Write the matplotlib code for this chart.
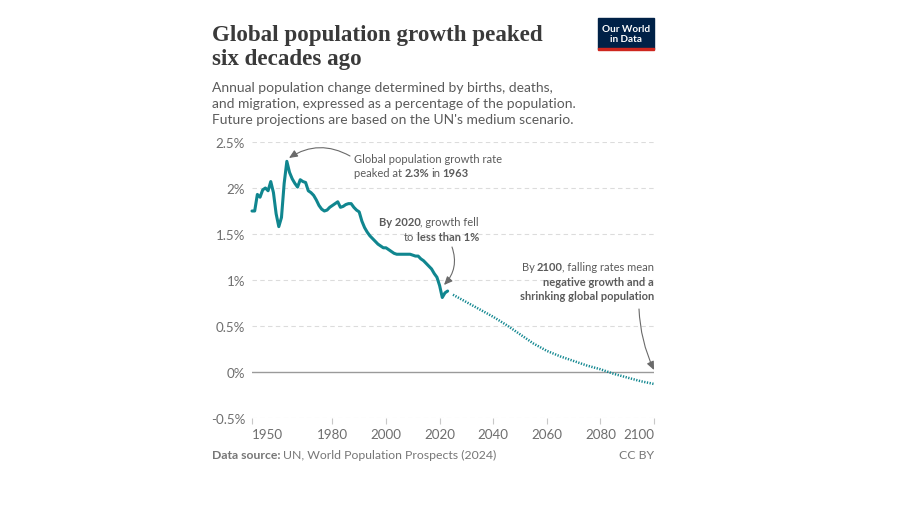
import matplotlib.pyplot as plt

plt.rcParams['font.family'] = ['Lato', 'DejaVu Sans']

# data (annual growth rate, %)
hist_years = list(range(1950, 2024))
hist_growth = [1.75, 1.75, 1.93, 1.90, 1.98, 2.00, 1.97, 2.07, 1.95, 1.72,
               1.58, 1.68, 2.05, 2.29, 2.17, 2.10, 2.05, 2.01, 2.09, 2.07,
               2.06, 1.97, 1.95, 1.92, 1.87, 1.81, 1.77, 1.75, 1.76, 1.79,
               1.81, 1.83, 1.85, 1.79, 1.80, 1.82, 1.83, 1.83, 1.79, 1.76,
               1.74, 1.64, 1.57, 1.52, 1.48, 1.45, 1.42, 1.39, 1.37, 1.35,
               1.35, 1.33, 1.31, 1.29, 1.28, 1.28, 1.28, 1.28, 1.28, 1.28,
               1.27, 1.26, 1.26, 1.23, 1.21, 1.18, 1.15, 1.12, 1.07, 1.03,
               0.94, 0.81, 0.86, 0.88]
proj_years = [2023, 2025, 2030, 2035, 2040, 2045, 2050, 2055, 2060, 2065,
              2070, 2075, 2080, 2085, 2090, 2095, 2100]
proj_growth = [0.88, 0.84, 0.76, 0.68, 0.60, 0.51, 0.41, 0.31, 0.23, 0.17,
               0.12, 0.07, 0.03, -0.02, -0.06, -0.10, -0.13]

y_ticks = [-0.5, 0, 0.5, 1, 1.5, 2, 2.5]
y_labels = ['-0.5%', '0%', '0.5%', '1%', '1.5%', '2%', '2.5%']
x_ticks = [1950, 1980, 2000, 2020, 2040, 2060, 2080, 2100]

W, H = 900, 510
TEAL = '#10868f'
GREY = '#5b5b5b'
LIGHT = '#6e6e6e'

fig = plt.figure(figsize=(W / 100, H / 100), dpi=100)


def fx(x):
    return x / W


def fy(y):
    return 1 - y / H


ax = fig.add_axes([fx(252), fy(419), (654 - 252) / W, (419 - 143) / H])
ax.set_xlim(1950, 2100)
ax.set_ylim(-0.5, 2.5)

for v in y_ticks:
    if v == 0:
        ax.axhline(0, color='#9a9a9a', lw=1, zorder=1)
    else:
        ax.axhline(v, color='#dcdcdc', lw=0.8, ls=(0, (4, 3)), zorder=1)

ax.plot(hist_years, hist_growth, color=TEAL, lw=2.2, solid_joinstyle='round',
        solid_capstyle='round', zorder=3, clip_on=False)
ax.plot(proj_years[1:], proj_growth[1:], color=TEAL, lw=1.8,
        ls=(0, (0.5, 0.6)), zorder=3, clip_on=False)

for s in ax.spines.values():
    s.set_visible(False)

ax.set_yticks(y_ticks)
ax.set_yticklabels(y_labels)
ax.tick_params(axis='y', length=0, pad=5, labelsize=9.6, labelcolor=LIGHT)
ax.set_xticks(x_ticks)
ax.set_xticklabels([str(t) for t in x_ticks])
ax.tick_params(axis='x', length=4, width=0.8, color='#c8c8c8', pad=3,
               labelsize=9.6, labelcolor=LIGHT)
xl = ax.get_xticklabels()
xl[0].set_horizontalalignment('left')
xl[-1].set_horizontalalignment('right')

# title / subtitle
fig.text(fx(212), fy(41), 'Global population growth peaked', family='Liberation Serif',
         fontweight='bold', fontsize=16.6, color='#3a3a3a', va='baseline')
fig.text(fx(212), fy(65), 'six decades ago', family='Liberation Serif',
         fontweight='bold', fontsize=16.6, color='#3a3a3a', va='baseline')
subtitle = ['Annual population change determined by births, deaths,',
            'and migration, expressed as a percentage of the population.',
            "Future projections are based on the UN's medium scenario."]
for i, line in enumerate(subtitle):
    fig.text(fx(212), fy(92.5 + 16 * i), line, fontsize=10, color=GREY, va='baseline')

# logo
fig.patches.append(plt.Rectangle((fx(598), fy(50)), 56 / W, 31 / H,
                                 transform=fig.transFigure, color='#002147'))
fig.patches.append(plt.Rectangle((fx(598), fy(51)), 56 / W, 1.6 / H,
                                 transform=fig.transFigure, color='#ce261e'))
fig.text(fx(626), fy(29), 'Our World', fontsize=7.2, fontweight='bold', color='white',
         ha='center', va='center')
fig.text(fx(626), fy(40), 'in Data', fontsize=7.2, fontweight='bold', color='white',
         ha='center', va='center')

renderer = fig.canvas.get_renderer()


def rich(x, y, parts, ha='left', size=8, color=GREY):
    # parts: (text, weight, space before)
    sp = size * 100 / 72 * 0.2
    items = []
    total = 0
    for i, (s, w, gap) in enumerate(parts):
        t = fig.text(0, 0, s, fontsize=size, fontweight=w, color=color, va='baseline')
        width = t.get_window_extent(renderer).width
        g = 0 if i == 0 else (sp if gap else -0.8)
        items.append((t, width, g))
        total += width + g
    x0 = x - total if ha == 'right' else x
    for t, width, g in items:
        x0 += g
        t.set_position((fx(x0), fy(y)))
        x0 += width


rich(354, 163, [('Global population growth rate', 'normal', False)])
rich(354, 177, [('peaked at', 'normal', False), ('2.3%', 'bold', True),
                ('in', 'normal', True), ('1963', 'bold', True)])
rich(479, 226, [('By 2020', 'bold', False), (', growth fell', 'normal', False)], ha='right')
rich(479, 241, [('to', 'normal', False), ('less than 1%', 'bold', True)], ha='right')
rich(654, 271, [('By', 'normal', False), ('2100', 'bold', True),
                (', falling rates mean', 'normal', False)], ha='right')
rich(654, 285.5, [('negative growth and a', 'bold', False)], ha='right')
rich(654, 300, [('shrinking global population', 'bold', False)], ha='right')

arrow = dict(arrowstyle='-|>,head_length=0.5,head_width=0.22', color='#6a6a6a', lw=0.8,
             shrinkA=0, shrinkB=0)
fig.add_artist(plt.Annotation('', xy=(289, H - 159), xytext=(350, H - 157),
                              xycoords='figure pixels', textcoords='figure pixels',
                              arrowprops=dict(arrow, connectionstyle='arc3,rad=0.3')))
fig.add_artist(plt.Annotation('', xy=(444, H - 286), xytext=(452, H - 248),
                              xycoords='figure pixels', textcoords='figure pixels',
                              arrowprops=dict(arrow, connectionstyle='arc3,rad=-0.3')))
fig.add_artist(plt.Annotation('', xy=(654, H - 371), xytext=(639, H - 310),
                              xycoords='figure pixels', textcoords='figure pixels',
                              arrowprops=dict(arrow, connectionstyle='arc3,rad=0.1')))

# footer
rich(212, 459, [('Data source:', 'bold', False),
                ('UN, World Population Prospects (2024)', 'normal', True)],
     size=8.8, color='#777777')
fig.text(fx(654), fy(459), 'CC BY', fontsize=8.8, color='#777777', ha='right', va='baseline')

fig.savefig('out.png', dpi=100, facecolor='white')
